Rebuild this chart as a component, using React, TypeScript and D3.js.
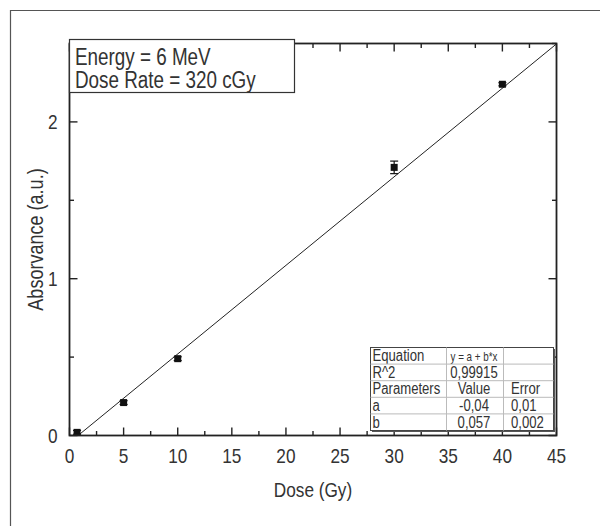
import { useEffect, useRef } from "react";
import * as d3 from "d3";

// measured points (dose in Gy, absorbance in a.u.) with error bars
const doses = [0.7, 5, 10, 30, 40];
const absorbance = [0.02, 0.21, 0.49, 1.71, 2.24];
const absErr = [0.012, 0.012, 0.012, 0.04, 0.01];

// linear fit drawn through the data
const fitA = -0.045;
const fitB = 0.0565;

const xTicks = [0, 5, 10, 15, 20, 25, 30, 35, 40, 45];
const yTicks = [0, 1, 2];

const legendLines = ["Energy = 6 MeV", "Dose Rate = 320 cGy"];

const tableRows = [
  ["Equation", "y = a + b*x", ""],
  ["R^2", "0,99915", ""],
  ["Parameters", "Value", "Error"],
  ["a", "-0,04", "0,01"],
  ["b", "0,057", "0,002"],
];

const FONT = "'Liberation Sans', Arial, sans-serif";
const SQUEEZE = 0.82; // condensed look of the original face

const W = 600, H = 526;

type Sel = d3.Selection<any, unknown, null, undefined>;

// text squeezed horizontally to mimic a condensed font
const narrow = (
  g: Sel, x: number, y: number, t: string | number, size: number,
  anchor = "start", rotate = 0
) =>
  g.append("text")
    .attr("transform", `translate(${x},${y}) rotate(${rotate}) scale(${SQUEEZE},1)`)
    .attr("text-anchor", anchor)
    .attr("font-family", FONT)
    .attr("font-size", size)
    .attr("fill", "#333")
    .text(t);

const App = () => {
  const svgRef = useRef<SVGSVGElement>(null);

  useEffect(() => {
    if (!svgRef.current) return;
    const svg = d3.select(svgRef.current);
    svg.selectAll("*").remove();

    const m = { left: 69.5, right: 556.5, top: 43.5, bottom: 435.5 };
    const x = d3.scaleLinear().domain([0, 45]).range([m.left, m.right]);
    const y = d3.scaleLinear().domain([0, 2.5]).range([m.bottom, m.top]);

    // outer panel frame
    svg.append("path")
      .attr("d", `M10.5,${H} V10.5 H${W}`)
      .attr("fill", "none")
      .attr("stroke", "#555")
      .attr("stroke-width", 1.2);

    svg.append("clipPath").attr("id", "plot-clip")
      .append("rect")
      .attr("x", m.left).attr("y", m.top)
      .attr("width", m.right - m.left).attr("height", m.bottom - m.top);

    // fit line
    const fitX = [0.7, 45];
    svg.append("path")
      .datum(fitX)
      .attr("clip-path", "url(#plot-clip)")
      .attr("d", d3.line<number>().x((d) => x(d)).y((d) => y(fitA + fitB * d)))
      .attr("fill", "none")
      .attr("stroke", "#222")
      .attr("stroke-width", 1);

    // error bars
    const eb = svg.append("g").attr("stroke", "#111").attr("stroke-width", 1.2);
    doses.forEach((d, i) => {
      const cx = x(d);
      const y0 = y(absorbance[i] - absErr[i]);
      const y1 = y(absorbance[i] + absErr[i]);
      eb.append("line").attr("x1", cx).attr("x2", cx).attr("y1", y0).attr("y2", y1);
      eb.append("line").attr("x1", cx - 4).attr("x2", cx + 4).attr("y1", y0).attr("y2", y0);
      eb.append("line").attr("x1", cx - 4).attr("x2", cx + 4).attr("y1", y1).attr("y2", y1);
    });

    // markers
    svg.append("g")
      .selectAll("rect")
      .data(doses)
      .join("rect")
      .attr("x", (d) => x(d) - 3.5)
      .attr("y", (_, i) => y(absorbance[i]) - 3.5)
      .attr("width", 7)
      .attr("height", 7)
      .attr("fill", "#111");

    // frame / axes
    const axis = svg.append("g").attr("stroke", "#222");
    axis.append("rect")
      .attr("x", m.left).attr("y", m.top)
      .attr("width", m.right - m.left).attr("height", m.bottom - m.top)
      .attr("fill", "none").attr("stroke-width", 1.8);

    d3.range(0, 45.01, 2.5).forEach((v) => {
      const len = v % 5 === 0 ? 8 : 4.5;
      axis.append("line").attr("x1", x(v)).attr("x2", x(v))
        .attr("y1", m.bottom).attr("y2", m.bottom - len).attr("stroke-width", 1.4);
      axis.append("line").attr("x1", x(v)).attr("x2", x(v))
        .attr("y1", m.top).attr("y2", m.top + len).attr("stroke-width", 1.4);
    });
    d3.range(0, 2.51, 0.5).forEach((v) => {
      const len = Math.abs(v - Math.round(v)) < 1e-6 ? 8 : 4.5;
      axis.append("line").attr("y1", y(v)).attr("y2", y(v))
        .attr("x1", m.left).attr("x2", m.left + len).attr("stroke-width", 1.4);
      axis.append("line").attr("y1", y(v)).attr("y2", y(v))
        .attr("x1", m.right).attr("x2", m.right - len).attr("stroke-width", 1.4);
    });

    // tick labels
    const labels = svg.append("g");
    xTicks.forEach((t) => narrow(labels, x(t), 463, t, 21, "middle"));
    yTicks.forEach((t) => narrow(labels, m.left - 12, y(t) + 7.5, t, 21, "end"));

    // axis titles
    narrow(svg, (m.left + m.right) / 2, 497, "Dose (Gy)", 21, "middle");
    narrow(svg, 43, (m.top + m.bottom) / 2, "Absorvance (a.u.)", 22, "middle", -90);

    // legend box
    svg.append("rect")
      .attr("x", 69.5).attr("y", 39.5).attr("width", 225).attr("height", 53)
      .attr("fill", "#fff").attr("stroke", "#333").attr("stroke-width", 1.2);
    legendLines.forEach((t, i) => narrow(svg, 75, 65 + i * 23, t, 23));

    // fit table
    const tx = 370.5, tw = 183, ty = 347.5, rh = 16.6;
    const cols = [tx, 446, 503, tx + tw];
    const tbl = svg.append("g");
    tbl.append("rect")
      .attr("x", tx + 1.5).attr("y", ty + 1.5)
      .attr("width", tw).attr("height", rh * tableRows.length)
      .attr("fill", "#555");
    tbl.append("rect")
      .attr("x", tx).attr("y", ty)
      .attr("width", tw).attr("height", rh * tableRows.length)
      .attr("fill", "#fff").attr("stroke", "#444").attr("stroke-width", 1);
    tableRows.forEach((row, r) => {
      if (r > 0) {
        tbl.append("line")
          .attr("x1", tx).attr("x2", tx + tw)
          .attr("y1", ty + r * rh).attr("y2", ty + r * rh)
          .attr("stroke", "#bbb").attr("stroke-width", 1);
      }
      row.forEach((cell, c) => {
        if (!cell) return;
        const small = r === 0 && c === 1;
        const anchor = c === 1 ? "middle" : "start";
        const cxp = c === 0 ? cols[0] + 2 : c === 1 ? 474 : cols[2] + 8;
        narrow(tbl, cxp, ty + (r + 1) * rh - 3, cell, small ? 12 : 16, anchor);
      });
    });
    [cols[1], cols[2]].forEach((cx) => {
      tbl.append("line")
        .attr("x1", cx + 0.5).attr("x2", cx + 0.5)
        .attr("y1", ty).attr("y2", ty + rh * tableRows.length)
        .attr("stroke", "#bbb").attr("stroke-width", 1);
    });
  }, []);

  return (
    <svg
      ref={svgRef}
      width={W}
      height={H}
      style={{ position: "absolute", left: 0, top: 0, background: "#fff" }}
    />
  );
};

export default App;
